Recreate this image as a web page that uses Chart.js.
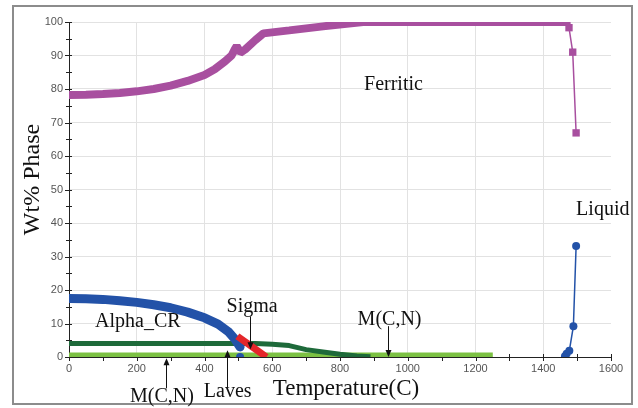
<!DOCTYPE html>
<html>
<head>
<meta charset="utf-8">
<script src="https://cdn.jsdelivr.net/npm/chart.js@4.4.1/dist/chart.umd.min.js"></script>
<style>
  body { margin: 0; background: #fff; }
  #phaseChart { display: block; }
</style>
</head>
<body>
<canvas id="phaseChart" width="638" height="408"></canvas>
<script>
// phase fractions vs temperature
var ferriticT  = [0, 50, 100, 150, 200, 250, 300, 350, 400, 430, 460, 480, 490, 495, 500, 505, 520, 550, 574, 650, 750, 868, 1469];
var ferriticWt = [78.2, 78.3, 78.5, 78.8, 79.3, 80.0, 81.0, 82.4, 84.2, 85.9, 88.2, 90.0, 92.0, 92.8, 92.0, 90.8, 91.8, 94.6, 96.6, 97.5, 98.7, 100, 100];
var ferriticTailT  = [1469, 1476, 1487, 1497];
var ferriticTailWt = [100, 98.3, 91.0, 66.9];

var alphaT  = [0, 50, 100, 150, 200, 250, 300, 350, 400, 440, 470, 490, 505];
var alphaWt = [17.5, 17.4, 17.2, 16.8, 16.3, 15.6, 14.7, 13.4, 11.7, 9.8, 7.6, 5.3, 3.0];
var alphaEndT  = [505];
var alphaEndWt = [0];

var sigmaT  = [497, 540, 583];
var sigmaWt = [6.2, 3.1, 0];

var lavesT  = [0, 550, 600, 650, 700, 750, 800, 850, 890];
var lavesWt = [4.0, 4.0, 3.8, 3.4, 2.2, 1.5, 0.8, 0.3, 0.1];

var mcnT  = [0, 1240];
var mcnWt = [0.2, 0.2];

var liquidT  = [1464, 1469, 1477, 1489, 1497];
var liquidWt = [0.2, 1.0, 1.9, 9.2, 33.1];

var xMin = 0, xMax = 1600, xStep = 200, xMinor = 100;
var yMin = 0, yMax = 100, yStep = 10, yMinor = 5;

// text labels placed in data units: [text, T, Wt]
var phaseLabels = [
  ['Ferritic', 871, 79.6],
  ['Liquid', 1497, 42.3],
  ['Alpha_CR', 77, 8.9],
  ['Sigma', 465, 13.4],
  ['M(C,N)', 852, 9.5],
  ['M(C,N)', 180, -13.4],
  ['Laves', 398, -11.9]
];
// arrows: [T, Wt from, Wt tip]
var phaseArrows = [
  [534, 12.1, 2.3],
  [465, -9.0, 2.0],
  [285, -9.3, -0.4],
  [942, 9.2, 0.0]
];

function pts(xs, ys) {
  return xs.map(function (x, i) { return { x: x, y: ys[i] }; });
}

var SERIF = '"Liberation Serif", "Times New Roman", serif';
var SANS = '"Liberation Sans", Arial, sans-serif';

var framePlugin = {
  id: 'frame',
  beforeDraw: function (chart) {
    var ctx = chart.ctx;
    ctx.save();
    ctx.fillStyle = '#fff';
    ctx.fillRect(0, 0, chart.width, chart.height);
    ctx.strokeStyle = '#8c8c8c';
    ctx.lineWidth = 2;
    ctx.strokeRect(13, 6, 619, 398);
    ctx.restore();
  }
};

var axesPlugin = {
  id: 'axesLines',
  beforeDatasetsDraw: function (chart) {
    var ctx = chart.ctx, a = chart.chartArea;
    var xs = chart.scales.x, ys = chart.scales.y;
    ctx.save();
    ctx.strokeStyle = '#222';
    ctx.lineWidth = 1;
    ctx.beginPath();
    ctx.moveTo(a.left + 0.5, a.top);
    ctx.lineTo(a.left + 0.5, a.bottom);
    ctx.moveTo(a.left, a.bottom + 0.5);
    ctx.lineTo(a.right, a.bottom + 0.5);
    for (var v = yMin; v <= yMax; v += yMinor) {
      var py = Math.round(ys.getPixelForValue(v)) + 0.5;
      var len = (v % yStep === 0) ? 4 : 3;
      ctx.moveTo(a.left - len, py);
      ctx.lineTo(a.left + 3, py);
    }
    for (var t = xMin; t <= xMax; t += xMinor) {
      var px = Math.round(xs.getPixelForValue(t)) + 0.5;
      ctx.moveTo(px, a.bottom - 3);
      ctx.lineTo(px, a.bottom + 4);
    }
    ctx.stroke();
    ctx.restore();
  },
  afterDatasetsDraw: function (chart) {
    var ctx = chart.ctx, a = chart.chartArea;
    var xs = chart.scales.x, ys = chart.scales.y;
    ctx.save();
    ctx.fillStyle = '#111';
    ctx.strokeStyle = '#111';
    ctx.font = '20px ' + SERIF;
    ctx.textAlign = 'left';
    ctx.textBaseline = 'alphabetic';
    phaseLabels.forEach(function (l) {
      ctx.fillText(l[0], xs.getPixelForValue(l[1]), ys.getPixelForValue(l[2]));
    });

    ctx.lineWidth = 1;
    phaseArrows.forEach(function (ar) {
      var px = Math.round(xs.getPixelForValue(ar[0])) + 0.5;
      var y0 = ys.getPixelForValue(ar[1]);
      var y1 = ys.getPixelForValue(ar[2]);
      var dir = y1 > y0 ? 1 : -1;
      ctx.beginPath();
      ctx.moveTo(px, y0);
      ctx.lineTo(px, y1 - dir * 5);
      ctx.stroke();
      ctx.beginPath();
      ctx.moveTo(px, y1);
      ctx.lineTo(px - 3, y1 - dir * 7);
      ctx.lineTo(px + 3, y1 - dir * 7);
      ctx.closePath();
      ctx.fill();
    });

    // axis titles
    ctx.font = '23px ' + SERIF;
    ctx.textAlign = 'center';
    ctx.fillText('Temperature(C)', (a.left + a.right) / 2 + 6, a.bottom + 38);
    ctx.translate(39, (a.top + a.bottom) / 2 - 10);
    ctx.rotate(-Math.PI / 2);
    ctx.font = '24px ' + SERIF;
    ctx.fillText('Wt% Phase', 0, 0);
    ctx.restore();
  }
};

var magenta = '#a84f9f';
var blue = '#2352a8';
var red = '#e4262a';
var darkGreen = '#1e6a3a';
var lightGreen = '#7cc143';

function plainTick(value) {
  return String(value);
}

var phaseChart = new Chart(document.getElementById('phaseChart'), {
  type: 'line',
  data: {
    datasets: [
      {
        label: 'Ferritic',
        data: pts(ferriticT, ferriticWt),
        borderColor: magenta,
        borderWidth: 8,
        borderCapStyle: 'square',
        borderJoinStyle: 'bevel',
        pointRadius: 0,
        tension: 0
      },
      {
        label: 'Ferritic tail',
        data: pts(ferriticTailT, ferriticTailWt),
        borderColor: magenta,
        backgroundColor: magenta,
        borderWidth: 1.5,
        pointStyle: 'rect',
        pointRadius: function (ctx) { return ctx.dataIndex === 0 ? 0 : 5.2; },
        pointBorderWidth: 0
      },
      {
        label: 'Sigma',
        data: pts(sigmaT, sigmaWt),
        borderColor: red,
        borderWidth: 7,
        borderCapStyle: 'butt',
        pointRadius: 0
      },
      {
        label: 'Alpha_CR',
        data: pts(alphaT, alphaWt),
        borderColor: blue,
        borderWidth: 9,
        borderCapStyle: 'round',
        borderJoinStyle: 'round',
        pointRadius: 0
      },
      {
        label: 'Alpha_CR end',
        data: pts(alphaEndT, alphaEndWt),
        borderColor: blue,
        backgroundColor: blue,
        pointRadius: 4,
        pointBorderWidth: 0,
        showLine: false
      },
      {
        label: 'Laves',
        data: pts(lavesT, lavesWt),
        borderColor: darkGreen,
        borderWidth: 5,
        borderCapStyle: 'butt',
        borderJoinStyle: 'round',
        pointRadius: 0
      },
      {
        label: 'M(C,N)',
        data: pts(mcnT, mcnWt),
        borderColor: lightGreen,
        borderWidth: 7.5,
        borderCapStyle: 'square',
        pointRadius: 0
      },
      {
        label: 'Liquid',
        data: pts(liquidT, liquidWt),
        borderColor: blue,
        backgroundColor: blue,
        borderWidth: 1.5,
        pointRadius: 4,
        pointBorderWidth: 0
      }
    ]
  },
  options: {
    responsive: false,
    animation: false,
    devicePixelRatio: 1,
    events: [],
    layout: { padding: { left: 0, right: 27, top: 22, bottom: 0 } },
    plugins: {
      legend: { display: false },
      tooltip: { enabled: false }
    },
    scales: {
      x: {
        type: 'linear',
        min: xMin,
        max: xMax,
        afterFit: function (s) { s.height = 51; },
        border: { display: false },
        grid: {
          drawTicks: false,
          color: function (c) {
            return (c.tick && (c.tick.value === xMin || c.tick.value === xMax)) ? 'rgba(0,0,0,0)' : '#e2e2e2';
          }
        },
        ticks: {
          stepSize: xStep,
          padding: 5,
          color: '#555',
          font: { family: SANS, size: 11 },
          callback: plainTick
        }
      },
      y: {
        min: yMin,
        max: yMax,
        afterFit: function (s) { s.width = 69; },
        border: { display: false },
        grid: {
          drawTicks: false,
          color: function (c) {
            return (c.tick && c.tick.value === yMin) ? 'rgba(0,0,0,0)' : '#e2e2e2';
          }
        },
        ticks: {
          stepSize: yStep,
          padding: 6,
          color: '#555',
          font: { family: SANS, size: 11 },
          callback: plainTick
        }
      }
    }
  },
  plugins: [framePlugin, axesPlugin]
});
</script>
</body>
</html>
